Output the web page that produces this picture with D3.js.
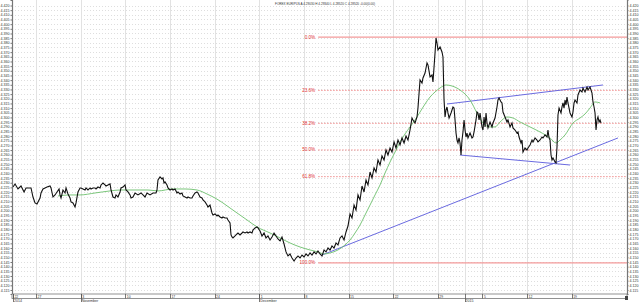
<!DOCTYPE html>
<html>
<head>
<meta charset="utf-8">
<script src="https://cdn.jsdelivr.net/npm/d3@7/dist/d3.min.js"></script>
<style>
  body { margin: 0; background: #fff; }
  svg { display: block; font-family: "Liberation Sans", Arial, sans-serif; }
</style>
</head>
<body>
<div id="chart"></div>
<script>
"use strict";

// price closes: [trading day from Mon 27 Oct 2014, EUR/PLN]
var closes = [
  [-2.58,4.2254],[-2.35,4.2287],[-2.02,4.2233],[-1.68,4.2265],[-1.34,4.2201],[-1.12,4.2244],[-0.90,4.2244],
  [-0.56,4.2244],[-0.34,4.2147],[-0.11,4.2083],[0.11,4.2072],[0.45,4.2136],[0.56,4.2190],[0.78,4.2233],
  [1.01,4.2244],[1.23,4.2254],[1.57,4.2265],[1.68,4.2244],[1.90,4.2147],[2.13,4.2169],[2.35,4.2201],
  [2.58,4.2233],[2.69,4.2169],[2.80,4.2136],[3.02,4.2222],[3.25,4.2190],[3.36,4.2244],[3.58,4.2179],
  [3.81,4.2136],[3.92,4.2094],[4.14,4.2083],[4.37,4.2040],[4.48,4.2083],[4.70,4.2201],[4.93,4.2244],
  [5.04,4.2244],[5.26,4.2233],[5.49,4.2222],[5.60,4.2244],[5.82,4.2222],[6.05,4.2244],[6.16,4.2233],
  [6.38,4.2244],[6.61,4.2244],[6.72,4.2233],[6.94,4.2254],[7.17,4.2244],[7.28,4.2276],[7.50,4.2297],
  [7.73,4.2276],[7.84,4.2265],[8.06,4.2276],[8.29,4.2287],[8.40,4.2222],[8.62,4.2147],[8.85,4.2136],
  [8.96,4.2169],[9.18,4.2147],[9.41,4.2201],[9.52,4.2244],[9.74,4.2254],[9.97,4.2276],[10.08,4.2222],
  [10.30,4.2201],[10.53,4.2169],[10.64,4.2136],[10.86,4.2147],[11.09,4.2190],[11.42,4.2169],[11.76,4.2190],
  [11.98,4.2169],[12.21,4.2147],[12.43,4.2190],[12.77,4.2169],[13.10,4.2190],[13.44,4.2190],[13.55,4.2222],
  [13.66,4.2329],[13.89,4.2362],[14.11,4.2340],[14.22,4.2351],[14.34,4.2297],[14.45,4.2308],[14.67,4.2276],
  [14.78,4.2244],[15.01,4.2222],[15.23,4.2233],[15.34,4.2222],[15.57,4.2233],[15.79,4.2190],[15.90,4.2201],
  [16.13,4.2179],[16.35,4.2190],[16.46,4.2158],[16.69,4.2147],[16.91,4.2136],[17.02,4.2147],[17.25,4.2136],
  [17.47,4.2136],[17.58,4.2158],[17.81,4.2190],[18.03,4.2201],[18.14,4.2190],[18.37,4.2147],[18.59,4.2136],
  [18.70,4.2115],[18.93,4.2094],[19.15,4.2061],[19.26,4.2040],[19.49,4.2061],[19.71,4.1976],[19.82,4.1954],
  [20.05,4.1965],[20.27,4.1944],[20.38,4.1954],[20.61,4.1933],[20.83,4.1922],[20.94,4.1933],[21.17,4.1922],
  [21.39,4.1922],[21.50,4.1901],[21.73,4.1868],[21.84,4.1740],[21.95,4.1718],[22.06,4.1708],[22.29,4.1729],
  [22.51,4.1751],[22.62,4.1761],[22.85,4.1740],[23.07,4.1761],[23.18,4.1772],[23.41,4.1761],[23.63,4.1772],
  [23.74,4.1761],[23.97,4.1772],[24.19,4.1761],[24.30,4.1793],[24.53,4.1815],[24.75,4.1826],[24.86,4.1815],
  [25.09,4.1783],[25.31,4.1729],[25.54,4.1761],[25.76,4.1708],[25.98,4.1729],[26.21,4.1686],[26.43,4.1718],
  [26.66,4.1761],[26.88,4.1729],[27.10,4.1697],[27.33,4.1676],[27.55,4.1718],[27.78,4.1643],[28.00,4.1558],
  [28.22,4.1515],[28.45,4.1536],[28.67,4.1493],[28.90,4.1461],[29.12,4.1493],[29.34,4.1515],[29.57,4.1493],
  [29.79,4.1525],[30.02,4.1504],[30.24,4.1536],[30.46,4.1515],[30.69,4.1547],[30.91,4.1525],[31.14,4.1558],
  [31.36,4.1536],[31.58,4.1568],[31.81,4.1536],[32.03,4.1515],[32.26,4.1579],[32.48,4.1558],[32.70,4.1600],
  [32.93,4.1579],[33.15,4.1622],[33.38,4.1600],[33.60,4.1654],[33.82,4.1633],[34.05,4.1708],[34.27,4.1729],
  [34.50,4.1686],[34.72,4.1772],[34.94,4.1836],[35.17,4.1965],[35.39,4.1922],[35.62,4.2061],[35.84,4.2008],
  [36.06,4.2169],[36.29,4.2115],[36.51,4.2265],[36.74,4.2201],[36.96,4.2329],[37.18,4.2276],[37.41,4.2415],
  [37.63,4.2351],[37.86,4.2458],[38.08,4.2415],[38.30,4.2544],[38.53,4.2490],[38.75,4.2587],[38.98,4.2544],
  [39.20,4.2651],[39.42,4.2597],[39.65,4.2672],[39.87,4.2629],[40.10,4.2737],[40.32,4.2672],[40.54,4.2758],
  [40.77,4.2705],[40.99,4.2780],[41.22,4.2726],[41.44,4.2801],[41.66,4.2758],[41.89,4.2865],[42.11,4.2994],
  [42.22,4.2973],[42.45,4.2940],[42.67,4.3005],[42.78,4.3101],[43.01,4.3401],[43.23,4.3369],[43.34,4.3423],
  [43.57,4.3476],[43.79,4.3584],[43.90,4.3562],[44.13,4.3434],[44.35,4.3455],[44.46,4.3380],[44.69,4.3691],
  [44.80,4.3852],[44.91,4.3798],[45.02,4.3723],[45.25,4.3755],[45.47,4.3702],[45.58,4.3648],[45.70,4.3187],
  [45.81,4.3005],[45.92,4.3080],[46.03,4.3112],[46.14,4.3048],[46.26,4.2994],[46.48,4.3048],[46.59,4.3080],
  [46.70,4.3112],[46.82,4.3101],[46.93,4.2973],[47.04,4.2833],[47.15,4.2758],[47.26,4.2726],[47.38,4.2780],
  [47.49,4.2726],[47.60,4.2597],[47.71,4.2758],[47.82,4.2844],[47.94,4.2973],[48.05,4.2865],[48.16,4.2790],
  [48.27,4.2833],[48.38,4.2780],[48.61,4.2833],[48.83,4.2780],[48.94,4.2790],[49.06,4.2844],[49.28,4.2973],
  [49.39,4.3058],[49.50,4.3048],[49.62,4.2973],[49.73,4.3048],[49.95,4.2898],[50.06,4.2865],[50.18,4.3005],
  [50.29,4.2898],[50.40,4.3048],[50.51,4.2940],[50.62,4.2887],[50.85,4.2951],[51.07,4.2898],[51.18,4.2940],
  [51.41,4.2994],[51.63,4.3112],[51.74,4.3187],[51.86,4.3208],[52.08,4.3166],[52.19,4.3155],[52.30,4.3058],
  [52.53,4.3005],[52.75,4.2951],[52.86,4.2973],[53.09,4.2898],[53.31,4.2940],[53.42,4.2887],[53.65,4.2865],
  [53.87,4.2833],[53.98,4.2844],[54.10,4.2790],[54.32,4.2726],[54.43,4.2758],[54.54,4.2629],[54.66,4.2651],
  [54.77,4.2672],[54.99,4.2651],[55.10,4.2672],[55.33,4.2705],[55.55,4.2758],[55.66,4.2737],[55.89,4.2780],
  [56.11,4.2758],[56.22,4.2737],[56.45,4.2758],[56.67,4.2790],[56.78,4.2780],[57.01,4.2812],[57.23,4.2790],
  [57.34,4.2865],[57.46,4.2780],[57.57,4.2758],[57.68,4.2597],[57.79,4.2544],[57.90,4.2565],[58.13,4.2522],
  [58.24,4.2512],[58.35,4.2683],[58.46,4.3026],[58.58,4.3101],[58.80,4.3048],[58.91,4.3112],[59.02,4.3155],
  [59.14,4.3101],[59.25,4.3187],[59.36,4.3133],[59.47,4.3219],[59.58,4.3155],[59.81,4.3048],[60.03,4.3005],
  [60.14,4.3058],[60.26,4.3155],[60.37,4.3187],[60.59,4.3155],[60.70,4.3241],[60.93,4.3294],[61.15,4.3273],
  [61.26,4.3316],[61.49,4.3273],[61.71,4.3326],[61.82,4.3294],[62.05,4.3326],[62.27,4.3262],[62.38,4.3166],
  [62.50,4.3112],[62.61,4.3048],[62.72,4.2865],[62.83,4.2973],[62.94,4.3005],[63.06,4.2951],[63.17,4.2973],
  [63.28,4.2940]
];

// moving average (green)
var movingAvg = [
  [2.46,4.2158],[3.81,4.2169],[4.93,4.2169],[6.61,4.2190],[8.29,4.2212],[9.41,4.2222],[10.53,4.2222],
  [12.54,4.2222],[13.66,4.2212],[15.34,4.2233],[16.69,4.2233],[18.03,4.2222],[19.15,4.2179],[20.05,4.2136],
  [20.94,4.2083],[21.73,4.2029],[22.51,4.1976],[23.63,4.1901],[24.75,4.1826],[26.21,4.1761],[27.33,4.1708],
  [28.45,4.1654],[29.57,4.1611],[30.69,4.1579],[31.58,4.1558],[32.26,4.1536],[32.93,4.1547],[33.82,4.1579],
  [34.61,4.1633],[35.17,4.1686],[35.73,4.1761],[36.29,4.1847],[36.85,4.1954],[37.41,4.2061],[37.97,4.2169],
  [38.53,4.2276],[39.09,4.2404],[39.65,4.2522],[40.21,4.2629],[40.77,4.2737],[41.33,4.2823],[41.89,4.2898],
  [42.45,4.2973],[43.01,4.3058],[43.57,4.3144],[44.13,4.3219],[44.69,4.3273],[45.25,4.3316],[45.92,4.3348],
  [46.59,4.3337],[47.49,4.3294],[48.61,4.3187],[49.39,4.3048],[50.06,4.2940],[50.85,4.2898],[51.41,4.2898],
  [51.97,4.2951],[52.75,4.3005],[53.42,4.2994],[54.21,4.2951],[55.33,4.2898],[56.45,4.2844],[57.57,4.2780],
  [58.24,4.2726],[58.69,4.2758],[59.25,4.2812],[60.14,4.2940],[60.93,4.2994],[61.49,4.3037],[62.05,4.3101],
  [62.61,4.3166],[63.17,4.3155]
];

// drawn trend lines (blue): [startDay, startPrice, endDay, endPrice]
var trendLines = [
  [32.03, 4.1525, 65.18, 4.2780],
  [46.03, 4.3144, 63.50, 4.3348],
  [47.49, 4.2597, 59.81, 4.2490]
];

// fibonacci retracement
var fibHigh = 4.3862;
var fibLow = 4.1440;
var fibStartDay = 31.6;
var fibRatios = [0, 0.236, 0.382, 0.5, 0.618, 1];
var fibLabels = ["0.0%", "23.6%", "38.2%", "50.0%", "61.8%", "100.0%"];

// time axis
var weekDays = [-2.58, 0, 5, 10, 15, 20, 25, 30, 35, 40, 45, 50, 55, 60];
var weekLabels = ["22", "27", "3", "10", "17", "24", "1", "8", "15", "22", "29", "5", "12", "19"];
var periodDays = [-2.58, 5, 25, 48];
var periodLabels = ["2014", "November", "December", "2015"];

// price axis
var priceTickMin = 4.115, priceTickMax = 4.420, priceTickStep = 0.005;

var titleText = "FOREX EUR/PLN A 4.29030 H 4.29340 L 4.28520 C 4.28520 -0.00(0.00)";

var width = 640, height = 302;
var plot = { left: 12, right: 627, top: 0, bottom: 294 };

var x = d3.scaleLinear().domain([-2.69, 66.19]).range([plot.left, plot.right]);
var y = d3.scaleLinear().domain([4.1107, 4.4259]).range([plot.bottom, plot.top]);

var yTicks = d3.range(0, Math.round((priceTickMax - priceTickMin) / priceTickStep) + 1)
  .map(function(i) { return +(priceTickMin + i * priceTickStep).toFixed(3); });

var svg = d3.select("#chart").append("svg")
  .attr("width", width)
  .attr("height", height);

// grid
var grid = svg.append("g").attr("id", "grid");
grid.selectAll("line.h").data(yTicks)
  .join("line")
    .attr("class", "h")
    .attr("x1", plot.left).attr("x2", plot.right)
    .attr("y1", d => Math.round(y(d)) + 0.5).attr("y2", d => Math.round(y(d)) + 0.5)
    .attr("stroke", "#c8c8c8")
    .attr("stroke-width", 0.6)
    .attr("stroke-dasharray", "1,2");

grid.selectAll("line.v").data(weekDays.slice(1).concat([48]))
  .join("line")
    .attr("class", "v")
    .attr("x1", d => Math.round(x(d)) + 0.5).attr("x2", d => Math.round(x(d)) + 0.5)
    .attr("y1", plot.top).attr("y2", plot.bottom)
    .attr("stroke", "#e2e2e2")
    .attr("stroke-width", 1);

// fib levels
var fib = svg.append("g").attr("id", "fib");
fibRatios.forEach(function(r, i) {
  var level = fibHigh - r * (fibHigh - fibLow);
  var solid = (r === 0 || r === 1);
  fib.append("line")
    .attr("x1", x(fibStartDay)).attr("x2", plot.right)
    .attr("y1", y(level)).attr("y2", y(level))
    .attr("stroke", solid ? "#f39a9a" : "#ec7070")
    .attr("stroke-width", solid ? 1.3 : 0.8)
    .attr("stroke-dasharray", solid ? null : "1.5,1.5");
  fib.append("text")
    .attr("x", x(fibStartDay) - 3)
    .attr("y", y(level) + 1.5)
    .attr("text-anchor", "end")
    .attr("fill", "#e03030")
    .style("font-size", "4.6px")
    .text(fibLabels[i]);
});

// trend lines
svg.append("g").attr("id", "trends")
  .selectAll("line").data(trendLines)
  .join("line")
    .attr("x1", d => x(d[0])).attr("y1", d => y(d[1]))
    .attr("x2", d => x(d[2])).attr("y2", d => y(d[3]))
    .attr("stroke", "#6a6ae0")
    .attr("stroke-width", 1);

// moving average
var line = d3.line()
  .x(d => x(d[0]))
  .y(d => y(d[1]));

svg.append("path")
  .datum(movingAvg)
  .attr("d", line.curve(d3.curveMonotoneX))
  .attr("fill", "none")
  .attr("stroke", "#6cc06c")
  .attr("stroke-width", 0.9);

// price
svg.append("path")
  .datum(closes)
  .attr("d", d3.line().x(d => x(d[0])).y(d => y(d[1])))
  .attr("fill", "none")
  .attr("stroke", "#111")
  .attr("stroke-width", 1.1);

// price axes
var fmt = d3.format(".3f");
var leftAxis = svg.append("g")
  .attr("transform", "translate(" + plot.left + ",0)")
  .call(d3.axisLeft(y).tickValues(yTicks).tickSize(1.5).tickPadding(1).tickFormat(fmt));
var rightAxis = svg.append("g")
  .attr("transform", "translate(" + plot.right + ",0)")
  .call(d3.axisRight(y).tickValues(yTicks).tickSize(1.5).tickPadding(1).tickFormat(fmt));
[leftAxis, rightAxis].forEach(function(a) {
  a.select(".domain").attr("stroke", "#777").attr("stroke-width", 1.2);
  a.selectAll(".tick line").attr("stroke", "#777");
  a.selectAll("text")
    .style("font-size", "3.6px")
    .style("font-family", "'Liberation Sans', Arial, sans-serif")
    .attr("fill", "#333");
});

// time axis band
var tAxis = svg.append("g").attr("id", "time-axis");
tAxis.append("rect")
  .attr("x", plot.left).attr("y", plot.bottom)
  .attr("width", plot.right - plot.left).attr("height", 4.5)
  .attr("fill", "#fff").attr("stroke", "#777").attr("stroke-width", 0.8);
tAxis.selectAll("line.wk").data(weekDays)
  .join("line")
    .attr("class", "wk")
    .attr("x1", d => Math.round(x(d)) + 0.5).attr("x2", d => Math.round(x(d)) + 0.5)
    .attr("y1", plot.bottom).attr("y2", plot.bottom + 4.5)
    .attr("stroke", "#555").attr("stroke-width", 0.8);
tAxis.selectAll("text.wk").data(weekDays)
  .join("text")
    .attr("class", "wk")
    .attr("x", d => x(d) + 1.5)
    .attr("y", plot.bottom + 3.8)
    .style("font-size", "3.4px")
    .attr("fill", "#333")
    .text((d, i) => weekLabels[i]);
tAxis.selectAll("line.pd").data(periodDays)
  .join("line")
    .attr("class", "pd")
    .attr("x1", d => Math.round(x(d)) + 0.5).attr("x2", d => Math.round(x(d)) + 0.5)
    .attr("y1", plot.bottom).attr("y2", height)
    .attr("stroke", "#555").attr("stroke-width", 0.8);
tAxis.selectAll("text.pd").data(periodDays)
  .join("text")
    .attr("class", "pd")
    .attr("x", d => x(d) + 1)
    .attr("y", height - 0.5)
    .style("font-size", "3.6px")
    .attr("fill", "#333")
    .text((d, i) => periodLabels[i]);
tAxis.append("rect")
  .attr("x", plot.right - 2).attr("y", plot.bottom + 2)
  .attr("width", 3).attr("height", 4)
  .attr("fill", "#444");

// title
svg.append("text")
  .attr("x", 275)
  .attr("y", 5)
  .attr("textLength", 100)
  .attr("lengthAdjust", "spacingAndGlyphs")
  .style("font-size", "4.2px")
  .attr("fill", "#333")
  .text(titleText);
</script>
</body>
</html>
